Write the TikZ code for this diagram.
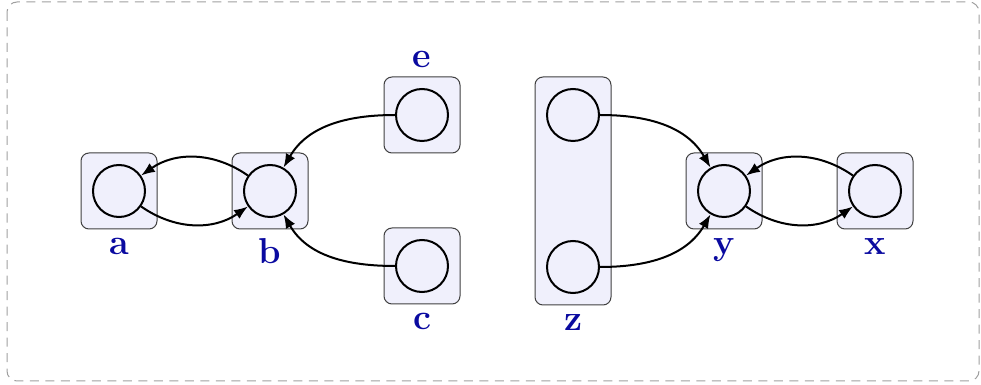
\documentclass[tikz,border=0pt]{standalone}
\usepackage{tikz}
\usetikzlibrary{positioning, arrows.meta}
\usepackage[dvipsnames]{xcolor}
\definecolor{labelblue}{RGB}{10,10,160}
\definecolor{boxfill}{RGB}{240,240,252}

\begin{document}
\begin{tikzpicture}[
    x=0.4pt, y=-0.4pt,
    node distance=0pt,
    group/.style={draw=black!75, fill=boxfill, rounded corners=3.2pt, minimum width=30.4pt, minimum height=30.4pt},
    state/.style={draw=black, thick, circle, minimum size=20.8pt, inner sep=0pt},
    lbl/.style={text=labelblue, font=\Large\bfseries},
    arrow/.style={-{Latex[length=5.5pt, width=4.2pt]}, thick}
]
\useasboundingbox (0,0) rectangle (981,385);
\draw[gray!75, dash pattern=on 3.6pt off 2.6pt, rounded corners=4pt] (7,2) rectangle (979,381);

\node[group] (ga) at (119,191) {};
\node[group] (gb) at (270,191) {};
\node[group] (ge) at (422,115) {};
\node[group] (gc) at (422,266) {};
\node[group, minimum height=91.2pt] (gz) at (573,191) {};
\node[group] (gy) at (724,191) {};
\node[group] (gx) at (875,191) {};

\node[state] (a) at (ga) {};
\node[state] (b) at (gb) {};
\node[state] (e) at (ge) {};
\node[state] (c) at (gc) {};
\node[state] (z1) at (573,115) {};
\node[state] (z2) at (573,267) {};
\node[state] (y) at (gy) {};
\node[state] (x) at (gx) {};

\node[lbl, below=of ga] (la) {a};
\node[lbl, below=of gb] (lb) {b};
\node[lbl, above=of ge] (le) {e};
\node[lbl, below=of gc] (lc) {c};
\node[lbl, below=of gz] (lz) {z};
\node[lbl, below=of gy] (ly) {y};
\node[lbl, below=of gx] (lx) {x};

\draw[arrow] (b) to[bend right=35] (a);
\draw[arrow] (a) to[bend right=35] (b);
\draw[arrow] (e.west) to[out=180, in=60] (b);
\draw[arrow] (c.west) to[out=180, in=-60] (b);
\draw[arrow] (z1.east) to[out=0, in=120] (y);
\draw[arrow] (z2.east) to[out=0, in=-120] (y);
\draw[arrow] (x) to[bend right=35] (y);
\draw[arrow] (y) to[bend right=35] (x);
\end{tikzpicture}
\end{document}
